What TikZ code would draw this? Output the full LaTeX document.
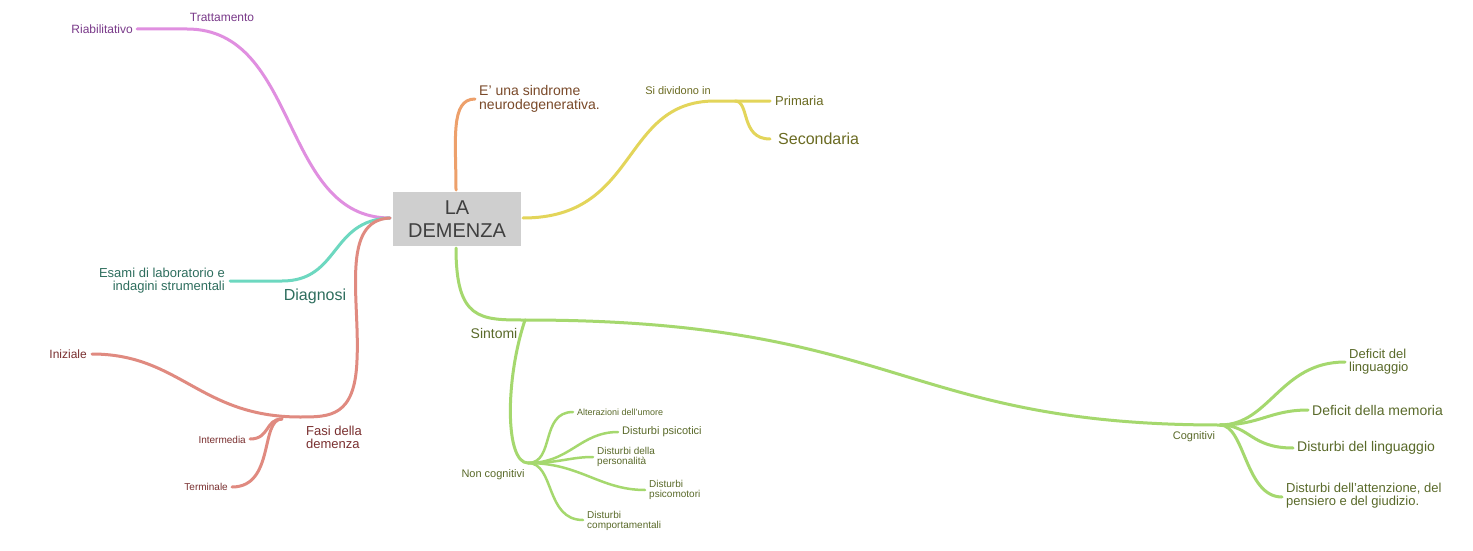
\documentclass[tikz,border=0pt]{standalone}
\usepackage{fontspec}
\setmainfont{Liberation Sans}
\begin{document}
\begin{tikzpicture}[x=1pt,y=-1pt,
 br/.style={line width=3pt,line cap=round},
 lab/.style={inner sep=1pt,align=left,font=\fontsize{#1}{#1}\selectfont},
 labr/.style={inner sep=1pt,align=right,anchor=east,font=\fontsize{#1}{#1}\selectfont}]
\definecolor{cpur}{HTML}{E08FE0}\definecolor{tpur}{HTML}{7A3A8A}
\definecolor{cora}{HTML}{EDA06B}\definecolor{tora}{HTML}{7A4A2A}
\definecolor{cyel}{HTML}{E3D55A}\definecolor{tyel}{HTML}{6B6B22}
\definecolor{ctea}{HTML}{6DD8C0}\definecolor{ttea}{HTML}{2E6E5E}
\definecolor{cred}{HTML}{E08A80}\definecolor{tred}{HTML}{7A3030}
\definecolor{cgre}{HTML}{A5D86E}\definecolor{tgre}{HTML}{5A6A2A}
\useasboundingbox (0,0) rectangle (1473,551);
\fill[white] (0,0) rectangle (1473,551);
% coordinates
\coordinate (cL) at (390,218); \coordinate (cT) at (456,190);
\coordinate (cR) at (523,218); \coordinate (cB) at (456,248);
\coordinate (tr) at (187,29); \coordinate (riab) at (137,29);
\coordinate (ora) at (475,99);
\coordinate (sd) at (715,101); \coordinate (sdb) at (735,101); \coordinate (pri) at (770,101); \coordinate (sec) at (770,139);
\coordinate (dia) at (282,281); \coordinate (esa) at (230,281);
\coordinate (fas) at (300,417); \coordinate (fb) at (282,419); \coordinate (ini) at (92,354);
\coordinate (int) at (250,439); \coordinate (ter) at (232,487);
\coordinate (sin) at (525,320); \coordinate (cog) at (1220,425); \coordinate (nc) at (528,463);
\coordinate (g1) at (1345,362); \coordinate (g2) at (1308,410); \coordinate (g3) at (1293,448); \coordinate (g4) at (1282,497);
\coordinate (n1) at (573,412); \coordinate (n2) at (618,432); \coordinate (n3) at (593,457); \coordinate (n4) at (645,490); \coordinate (n5) at (583,520);
% branches
\draw[br,cpur] (cL) .. controls (280,218) and (300,29) .. (tr) -- (riab);
\draw[br,cora] (cT) .. controls (456,140) and (450,99) .. (ora);
\draw[br,cyel] (cR) .. controls (640,218) and (620,101) .. (sd) -- (pri);
\draw[br,cyel] (sdb) .. controls (750,101) and (740,139) .. (sec);
\draw[br,ctea] (cL) .. controls (330,220) and (340,281) .. (dia) -- (esa);
\draw[br,cred] (cL) .. controls (340,220) and (360,300) .. (357,360) .. controls (355,417) and (330,417) .. (fas);
\draw[br,cred] (fas) .. controls (200,417) and (180,354) .. (ini);
\draw[br,cred] (fb) .. controls (265,419) and (270,439) .. (int);
\draw[br,cred] (fb) .. controls (260,419) and (275,487) .. (ter);
\draw[br,cgre] (cB) .. controls (456,320) and (480,320) .. (sin);
\draw[br,cgre] (sin) .. controls (900,320) and (900,425) .. (cog);
\draw[br,cgre] (sin) .. controls (505,380) and (505,463) .. (nc);
\draw[br,cgre] (cog) .. controls (1270,425) and (1280,362) .. (g1);
\draw[br,cgre] (cog) .. controls (1260,425) and (1270,410) .. (g2);
\draw[br,cgre] (cog) .. controls (1250,425) and (1250,448) .. (g3);
\draw[br,cgre] (cog) .. controls (1245,425) and (1245,497) .. (g4);
\draw[br,cgre,line width=2.5pt] (nc) .. controls (555,463) and (540,412) .. (n1);
\draw[br,cgre,line width=2.5pt] (nc) .. controls (570,463) and (580,432) .. (n2);
\draw[br,cgre,line width=2.5pt] (nc) .. controls (560,463) and (570,457) .. (n3);
\draw[br,cgre,line width=2.5pt] (nc) .. controls (580,463) and (600,490) .. (n4);
\draw[br,cgre,line width=2.5pt] (nc) .. controls (555,463) and (545,520) .. (n5);
% center
\node[fill=black!19,minimum width=128pt,minimum height=54pt,align=center,text=black!75,font=\fontsize{20}{23}\selectfont] (c) at (457,219) {LA\\DEMENZA};
% labels
\node[lab=12,text=tpur] (lt) at (222,17) {Trattamento};
\node[labr=12,text=tpur] (lr) at (134,29) {Riabilitativo};
\node[lab=14,text=tora,anchor=west] (lo) at (478,99) {E' una sindrome\\neurodegenerativa.};
\node[lab=11,text=tyel] (ls) at (678,91) {Si dividono in};
\node[lab=13,text=tyel,anchor=west] (lp) at (774,101) {Primaria};
\node[lab=16,text=tyel,anchor=west] (lsec) at (777,139) {Secondaria};
\node[lab=16,text=ttea] (ld) at (315,296) {Diagnosi};
\node[labr=13,text=ttea] (le) at (226,281) {Esami di laboratorio e\\indagini strumentali};
\node[lab=13,text=tred,anchor=west] (lf) at (305,437) {Fasi della\\demenza};
\node[labr=12,text=tred] (li) at (88,354) {Iniziale};
\node[labr=10,text=tred] (lin) at (247,440) {Intermedia};
\node[labr=10,text=tred] (lte) at (229,487) {Terminale};
\node[lab=14,text=tgre] (lsi) at (494,333) {Sintomi};
\node[lab=11,text=tgre] (lc) at (1194,437) {Cognitivi};
\node[lab=11,text=tgre] (lnc) at (493,475) {Non cognitivi};
\node[lab=13,text=tgre,anchor=west] at (1348,362) {Deficit del\\linguaggio};
\node[lab=14,text=tgre,anchor=west] at (1311,410) {Deficit della memoria};
\node[lab=14,text=tgre,anchor=west] at (1296,448) {Disturbi del linguaggio};
\node[lab=13,text=tgre,anchor=west] at (1285,496) {Disturbi dell'attenzione, del\\pensiero e del giudizio.};
\node[lab=9,text=tgre,anchor=west] at (576,412) {Alterazioni dell'umore};
\node[lab=11,text=tgre,anchor=west] at (621,432) {Disturbi psicotici};
\node[lab=10,text=tgre,anchor=west] at (596,457) {Disturbi della\\personalità};
\node[lab=10,text=tgre,anchor=west] at (648,490) {Disturbi\\psicomotori};
\node[lab=10,text=tgre,anchor=west] at (586,521) {Disturbi\\comportamentali};
\end{tikzpicture}
\end{document}
